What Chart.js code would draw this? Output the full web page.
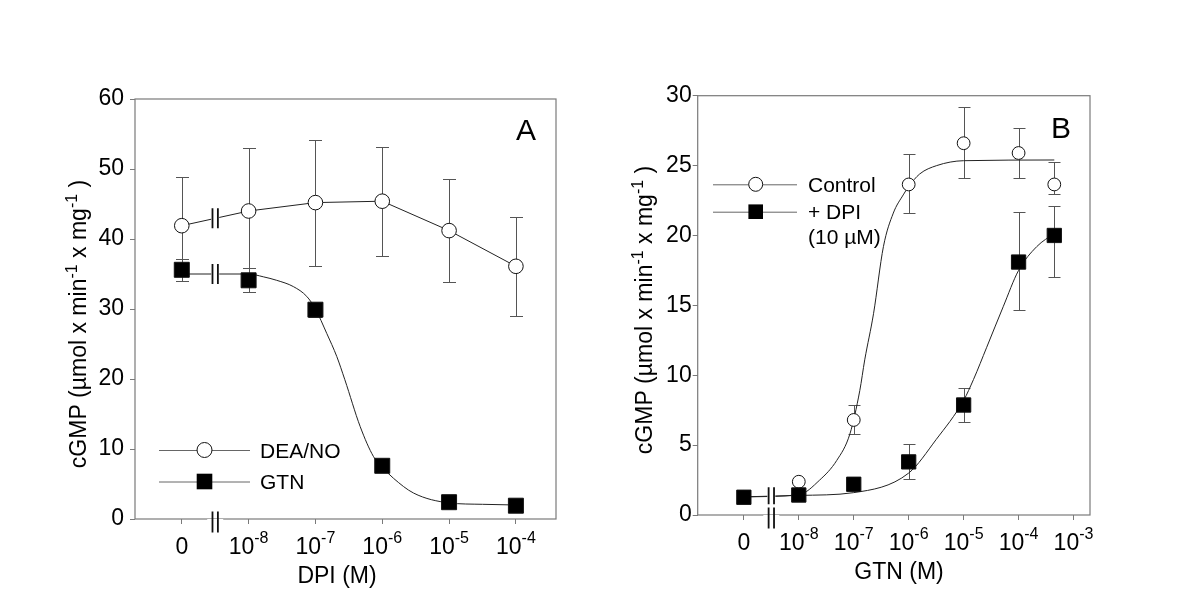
<!DOCTYPE html>
<html lang="en">
<head>
  <meta charset="UTF-8">
  <title>cGMP formation: DPI and GTN</title>
  <script src="https://cdn.jsdelivr.net/npm/chart.js"></script>
  <style>
    body { margin: 0; background: #fff; }
    .panel { position: absolute; top: 0; width: 600px; height: 616px; }
  </style>
</head>
<body>
  <div class="panel" style="left: 0;"><canvas id="chartA" width="600" height="616"></canvas></div>
  <div class="panel" style="left: 600px;"><canvas id="chartB" width="600" height="616"></canvas></div>

  <script>
    // x positions: 0 = no drug, k = 10^(k-9) M
    // ---- Panel A: DPI ----
    const aPos = [0, 1, 2, 3, 4, 5];
    const aTickLabels = ['0', '10^-8', '10^-7', '10^-6', '10^-5', '10^-4'];
    const aDea = [41.9, 44.0, 45.2, 45.4, 41.2, 36.1];
    const aDeaErr = [6.9, 9.0, 9.0, 7.8, 7.4, 7.1];
    const aGtn = [35.6, 34.1, 29.9, 7.6, 2.4, 1.9];
    const aGtnErr = [1.6, 1.7, 1.0, 0.5, 0.3, 0.3];
    const aGtnFitPos = [0, 1, 1.22, 1.42, 1.67, 1.87, 2, 2.17, 2.32, 2.44, 2.67, 2.87, 3, 3.17, 3.47, 4, 4.5, 5];
    const aGtnFitVal = [35.0, 35.0, 34.6, 34.1, 33.2, 31.8, 30.0, 26.5, 23.2, 19.9, 13.2, 8.9, 7.4, 5.8, 3.7, 2.3, 2.1, 2.0];
    const aLegend = ['DEA/NO', 'GTN'];

    // ---- Panel B: GTN ----
    const bPos = [0, 1, 2, 3, 4, 5, 5.65];
    const bTickPos = [0, 1, 2, 3, 4, 5, 6];
    const bTickLabels = ['0', '10^-8', '10^-7', '10^-6', '10^-5', '10^-4', '10^-3'];
    const bCtrl = [1.3, 2.38, 6.8, 23.65, 26.6, 25.9, 23.65];
    const bCtrlErrUp = [0, 0, 1.05, 2.15, 2.6, 1.8, 1.6];
    const bCtrlErrDn = [0, 0, 1.0, 2.05, 2.5, 1.8, 0.65];
    const bDpi = [1.27, 1.43, 2.2, 3.8, 7.87, 18.1, 20.0];
    const bDpiErrUp = [0, 0, 0, 1.3, 1.25, 3.55, 2.1];
    const bDpiErrDn = [0, 0, 0, 1.25, 1.2, 3.45, 2.95];
    const bCtrlFitPos = [0, 1, 1.38, 1.69, 1.93, 2.11, 2.2, 2.36, 2.54, 2.72, 2.9, 3, 3.2, 3.51, 4, 5.65];
    const bCtrlFitVal = [1.3, 1.45, 2.5, 3.9, 5.8, 8.9, 11.1, 14.4, 19.2, 21.6, 22.9, 23.5, 24.4, 25.0, 25.35, 25.4];
    const bDpiFitPos = [0, 1, 2, 3, 3.5, 4, 4.18, 4.42, 4.72, 5, 5.33, 5.65];
    const bDpiFitVal = [1.3, 1.4, 1.6, 3.0, 5.4, 8.2, 9.7, 12.0, 14.9, 17.5, 19.2, 20.15];
    const bLegend = ['Control', '+ DPI', '(10 µM)'];

    const yTitleParts = [['cGMP (µmol x min', false], ['-1', true], [' x mg', false], ['-1', true], [' )', false]];

    const FONT = '"Liberation Sans", Arial, sans-serif';
    const AXIS = '#7a7a7a';
    const INK = '#111';
    const BREAK_POS = 0.5;

    const pts = (xs, ys) => xs.map((x, i) => ({ x: x, y: ys[i] }));

    function drawRich(ctx, parts, x, y, size, supSize, rise) {
      let w = 0;
      parts.forEach(([t, sup]) => {
        ctx.font = (sup ? supSize : size) + 'px ' + FONT;
        w += ctx.measureText(t).width;
      });
      let cx = x - w / 2;
      parts.forEach(([t, sup]) => {
        ctx.font = (sup ? supSize : size) + 'px ' + FONT;
        ctx.fillText(t, cx, sup ? y - rise : y);
        cx += ctx.measureText(t).width;
      });
    }

    function drawBreak(ctx, x, y, half, gap) {
      ctx.fillStyle = '#fff';
      ctx.fillRect(x - gap, y - 3, gap * 2, 6);
      ctx.strokeStyle = INK;
      ctx.lineWidth = 1.8;
      ctx.beginPath();
      ctx.moveTo(x - 2.7, y - half); ctx.lineTo(x - 2.7, y + half);
      ctx.moveTo(x + 2.7, y - half); ctx.lineTo(x + 2.7, y + half);
      ctx.stroke();
    }

    function makePanel(id, p) {
      const decor = {
        id: 'decor',
        beforeDatasetsDraw(chart) {
          const ctx = chart.ctx, a = chart.chartArea;
          const xs = chart.scales.x, ys = chart.scales.y;
          ctx.save();
          ctx.strokeStyle = AXIS;
          ctx.lineWidth = 1.2;
          ctx.strokeRect(a.left, a.top, a.right - a.left, a.bottom - a.top);
          ctx.strokeStyle = '#555';
          ctx.lineWidth = 1;
          chart.data.datasets.forEach(ds => {
            if (!ds.errPlus) return;
            ds.data.forEach((d, i) => {
              const up = ds.errPlus[i], dn = ds.errMinus[i];
              if (!up && !dn) return;
              const px = Math.round(xs.getPixelForValue(d.x)) + 0.5;
              const y1 = Math.round(ys.getPixelForValue(d.y + up)) + 0.5;
              const y2 = Math.round(ys.getPixelForValue(d.y - dn)) + 0.5;
              ctx.beginPath();
              ctx.moveTo(px, y1); ctx.lineTo(px, y2);
              ctx.moveTo(px - p.cap, y1); ctx.lineTo(px + p.cap, y1);
              ctx.moveTo(px - p.cap, y2); ctx.lineTo(px + p.cap, y2);
              ctx.stroke();
            });
          });
          ctx.restore();
        },
        afterDatasetsDraw(chart) {
          const ctx = chart.ctx, a = chart.chartArea;
          const xs = chart.scales.x, ys = chart.scales.y;
          const bx = xs.getPixelForValue(BREAK_POS);
          ctx.save();
          p.breakSets.forEach(k => {
            const d = chart.data.datasets[k].data;
            const by = (ys.getPixelForValue(d[0].y) + ys.getPixelForValue(d[1].y)) / 2;
            drawBreak(ctx, bx, by, p.breakHalf, 4);
          });
          drawBreak(ctx, bx, a.bottom + 3, 10.5, 8);
          ctx.restore();
        },
        afterDraw(chart) {
          const ctx = chart.ctx, a = chart.chartArea;
          const xs = chart.scales.x;
          ctx.save();
          ctx.fillStyle = '#000';
          ctx.textBaseline = 'alphabetic';
          ctx.textAlign = 'left';
          // x tick labels with exponents
          p.ticks.forEach((v, i) => {
            const [base, exp] = p.tickLabels[i].split('^');
            const parts = exp ? [[base, false], [exp, true]] : [[base, false]];
            drawRich(ctx, parts, xs.getPixelForValue(v), a.bottom + 35, 23, 16, 11);
          });
          // x title
          ctx.font = '23px ' + FONT;
          ctx.textAlign = 'center';
          ctx.fillText(p.xTitle, p.xTitleX, a.bottom + 64);
          // y title
          ctx.save();
          ctx.translate(p.yTitleX, p.yTitleY);
          ctx.rotate(-Math.PI / 2);
          ctx.textAlign = 'left';
          drawRich(ctx, yTitleParts, 0, 0, 23, 16, 9);
          ctx.restore();
          // panel letter
          ctx.font = '30px ' + FONT;
          ctx.textAlign = 'left';
          ctx.fillText(p.letter, p.letterX, p.letterY);
          // legend
          const L = p.legend;
          L.items.forEach((it, i) => {
            const y = L.ys[i];
            ctx.strokeStyle = '#666';
            ctx.lineWidth = 1;
            ctx.beginPath();
            ctx.moveTo(L.x0, y + 0.5); ctx.lineTo(L.x1, y + 0.5);
            ctx.stroke();
            ctx.lineWidth = 1;
            ctx.strokeStyle = INK;
            if (it.style === 'circle') {
              ctx.fillStyle = '#fff';
              ctx.beginPath();
              ctx.arc(L.xm, y, it.r, 0, Math.PI * 2);
              ctx.fill(); ctx.stroke();
            } else {
              ctx.fillStyle = '#000';
              ctx.fillRect(L.xm - it.r, y - it.r, it.r * 2, it.r * 2);
            }
            ctx.fillStyle = '#000';
            ctx.font = '21px ' + FONT;
            ctx.fillText(p.legendText[i], L.xt, y + 7.5);
          });
          if (L.extra) ctx.fillText(p.legendText[L.items.length], L.xt, L.extra);
          ctx.restore();
        }
      };

      return new Chart(document.getElementById(id), {
        type: 'scatter',
        data: { datasets: p.datasets },
        options: {
          responsive: false,
          animation: false,
          events: [],
          layout: { padding: p.padding },
          plugins: { legend: { display: false }, tooltip: { enabled: false } },
          scales: {
            x: {
              type: 'linear',
              min: p.xMin, max: p.xMax,
              afterBuildTicks: s => { s.ticks = p.ticks.map(v => ({ value: v })); },
              afterFit: s => { s.height = 60; },
              ticks: { display: false },
              border: { display: false },
              grid: { drawOnChartArea: false, drawTicks: true, tickLength: 5, color: AXIS }
            },
            y: {
              min: 0, max: p.yMax,
              afterFit: s => { s.width = 80; },
              ticks: { stepSize: p.yStep, padding: p.yPad, color: '#000', font: { family: FONT, size: 23 } },
              border: { display: false },
              grid: { drawOnChartArea: false, drawTicks: true, tickLength: 5, color: AXIS }
            }
          }
        },
        plugins: [decor]
      });
    }

    const lineDs = (data, order, curve) => ({
      data: data, showLine: true, pointRadius: 0, borderColor: '#222', borderWidth: 1,
      cubicInterpolationMode: curve ? 'monotone' : 'default', order: order
    });
    const markDs = (data, style, r, up, dn, order) => ({
      data: data, showLine: false, pointStyle: style, pointRadius: r,
      backgroundColor: style === 'circle' ? '#fff' : '#000', borderColor: INK, borderWidth: 1,
      errPlus: up, errMinus: dn, order: order
    });

    makePanel('chartA', {
      padding: { left: 55, right: 44, top: 99, bottom: 37 },
      xMin: -0.7, xMax: 5.6, ticks: aPos, tickLabels: aTickLabels,
      yMax: 60, yStep: 10, yPad: 6, cap: 6.5, breakHalf: 10,
      xTitle: 'DPI (M)', xTitleX: 337, yTitleX: 86, yTitleY: 324,
      letter: 'A', letterX: 516, letterY: 139.5,
      legendText: aLegend,
      legend: { x0: 159, x1: 250, xm: 204.5, xt: 260, ys: [450, 481.5],
        items: [{ style: 'circle', r: 7.5 }, { style: 'rect', r: 7.8 }] },
      breakSets: [0, 1],
      datasets: [
        lineDs(pts(aPos, aDea), 3, false),
        lineDs(pts(aGtnFitPos, aGtnFitVal), 3, true),
        markDs(pts(aPos, aDea), 'circle', 7.3, aDeaErr, aDeaErr, 2),
        markDs(pts(aPos, aGtn), 'rect', 10.6, aGtnErr, aGtnErr, 1)
      ]
    });

    makePanel('chartB', {
      padding: { left: 17.7, right: 110, top: 95.7, bottom: 41 },
      xMin: -0.84, xMax: 6.3, ticks: bTickPos, tickLabels: bTickLabels,
      yMax: 30, yStep: 5, yPad: 1, cap: 6, breakHalf: 8.5,
      xTitle: 'GTN (M)', xTitleX: 299, yTitleX: 52, yTitleY: 310,
      letter: 'B', letterX: 451, letterY: 137.5,
      legendText: bLegend,
      legend: { x0: 113, x1: 197, xm: 155.7, xt: 208, ys: [184.3, 211.7], extra: 243.5,
        items: [{ style: 'circle', r: 7 }, { style: 'rect', r: 7.3 }] },
      breakSets: [0],
      datasets: [
        lineDs(pts(bCtrlFitPos, bCtrlFitVal), 3, true),
        lineDs(pts(bDpiFitPos, bDpiFitVal), 3, true),
        markDs(pts(bPos, bCtrl), 'circle', 6.4, bCtrlErrUp, bCtrlErrDn, 2),
        markDs(pts(bPos, bDpi), 'rect', 10.1, bDpiErrUp, bDpiErrDn, 1)
      ]
    });
  </script>
</body>
</html>
